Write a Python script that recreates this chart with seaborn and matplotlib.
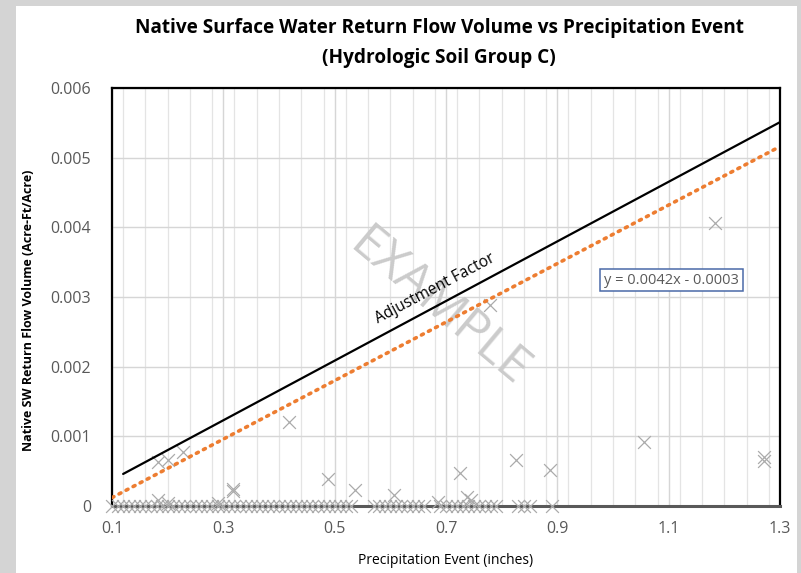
import matplotlib
matplotlib.use("Agg")
import matplotlib.pyplot as plt
from matplotlib.patches import Rectangle
from matplotlib.ticker import MultipleLocator
import seaborn as sns
import pandas as pd
import numpy as np

# Observed events that produced no return flow (precip inches)
zero_x = [0.10, 0.11, 0.12, 0.13, 0.14, 0.15, 0.16, 0.17, 0.18, 0.19,
          0.20, 0.21, 0.22, 0.23, 0.24, 0.25, 0.26, 0.27, 0.28, 0.29,
          0.30, 0.31, 0.32, 0.33, 0.34, 0.35, 0.36, 0.37, 0.38, 0.39,
          0.40, 0.41, 0.42, 0.43, 0.44, 0.45, 0.46, 0.47, 0.48, 0.49,
          0.50, 0.51, 0.52, 0.53, 0.57, 0.58, 0.59, 0.60, 0.61, 0.62,
          0.63, 0.64, 0.65, 0.66, 0.69, 0.70, 0.71, 0.72, 0.73, 0.74,
          0.75, 0.76, 0.77, 0.78, 0.79, 0.83, 0.84, 0.85, 0.89]

# Events with measurable return flow
flow_x = [0.182, 0.200, 0.227, 0.418, 0.318, 0.318, 0.488, 0.537, 0.607,
          0.182, 0.200, 0.290, 0.779, 0.725, 0.738, 0.745, 0.825, 0.886,
          1.055, 1.272, 1.272, 1.184, 0.686]
flow_y = [0.00063, 0.00066, 0.00077, 0.00120, 0.00024, 0.00021, 0.00039,
          0.00023, 0.00016, 0.00009, 0.00004, 0.00005, 0.00288, 0.00047,
          0.00013, 0.00008, 0.00066, 0.00052, 0.00092, 0.00070, 0.00064,
          0.00406, 0.00006]

# Linear trendline y = 0.0042x - 0.0003
trend_slope = 0.0042
trend_intercept = -0.0003
trend_x = [0.1, 1.3]

# Adjustment factor line end points
adj_x = [0.12, 1.30]
adj_y = [0.00046, 0.00551]

x_ticks = [0.1, 0.3, 0.5, 0.7, 0.9, 1.1, 1.3]
y_ticks = [0, 0.001, 0.002, 0.003, 0.004, 0.005, 0.006]
y_tick_labels = ["0", "0.001", "0.002", "0.003", "0.004", "0.005", "0.006"]

pts = pd.DataFrame({
    "precip": zero_x + flow_x,
    "flow": [0.0] * len(zero_x) + flow_y,
})
trend = pd.DataFrame({
    "precip": trend_x,
    "flow": [trend_slope * v + trend_intercept for v in trend_x],
})
adj = pd.DataFrame({"precip": adj_x, "flow": adj_y})

sns.set_theme(style="white")
plt.rcParams["font.family"] = ["Open Sans", "DejaVu Sans"]

fig = plt.figure(figsize=(8.01, 5.73), dpi=100)
fig.patch.set_facecolor("#d4d4d4")
fig.patches.append(Rectangle((16 / 801, 0), (797 - 16) / 801, 1 - 6 / 573,
                             transform=fig.transFigure, facecolor="white",
                             edgecolor="none", zorder=-10))

ax = fig.add_axes([112 / 801, 1 - 506 / 573, (780 - 112) / 801, (506 - 88) / 573])
ax.set_facecolor("white")

# grid
ax.xaxis.set_minor_locator(MultipleLocator(0.04))
ax.grid(which="major", color="#d6d6d6", linewidth=1.0)
ax.grid(which="minor", axis="x", color="#e4e4e4", linewidth=0.9)
ax.set_axisbelow(True)

sns.scatterplot(data=pts, x="precip", y="flow", marker="x", s=85,
                color="#ababab", linewidth=0.9, ax=ax, zorder=3, clip_on=False)
sns.lineplot(data=trend, x="precip", y="flow", ax=ax, color="#ed7d31",
             linewidth=2.6, linestyle=(0, (0.6, 1.6)),
             solid_capstyle="round", dash_capstyle="round", zorder=4)
sns.lineplot(data=adj, x="precip", y="flow", ax=ax, color="black",
             linewidth=1.6, zorder=5)

ax.set_xlim(0.1, 1.3)
ax.set_ylim(0, 0.006)
ax.set_xticks(x_ticks)
ax.set_xticklabels([str(v) for v in x_ticks])
ax.set_yticks(y_ticks)
ax.set_yticklabels(y_tick_labels)
ax.tick_params(axis="both", labelsize=11.5, colors="#595959", length=0)
ax.tick_params(axis="x", pad=11)
ax.tick_params(axis="y", pad=15)

for side in ["top", "right", "left"]:
    ax.spines[side].set_color("black")
    ax.spines[side].set_linewidth(1.6)
ax.spines["bottom"].set_color("#595959")
ax.spines["bottom"].set_linewidth(2.2)

ax.set_xlabel("Precipitation Event (inches)", fontsize=10, color="black")
ax.xaxis.set_label_coords((446 - 112) / 668, -(553 - 506) / 418)
ax.set_ylabel("Native SW Return Flow Volume (Acre-Ft/Acre)", fontsize=9,
              fontweight="bold", color="black")
ax.yaxis.set_label_coords(-(112 - 35) / 668, (506 - 310) / 418)

fig.suptitle("Native Surface Water Return Flow Volume vs Precipitation Event\n(Hydrologic Soil Group C)",
             x=439 / 801, y=1 - 18 / 573, fontsize=13.7, fontweight="bold",
             color="black", linespacing=1.65, va="top")

# watermark
ax.text(0.686, 0.00284, "EXAMPLE", fontsize=36, color="#cbcbcb", rotation=-40,
        ha="center", va="center", zorder=2)

ax.text(0.680, 0.00312, "Adjustment Factor", fontsize=11.2, color="black",
        rotation=28, ha="center", va="center", rotation_mode="anchor", zorder=6)

ax.text(1.105, 0.00324, "y = 0.0042x - 0.0003", fontsize=10.5, color="#595959",
        ha="center", va="center", zorder=6,
        bbox=dict(boxstyle="square,pad=0.25", fc="white", ec="#4a6aa8", lw=1.1))

fig.savefig("out.png", dpi=100, facecolor=fig.get_facecolor())
